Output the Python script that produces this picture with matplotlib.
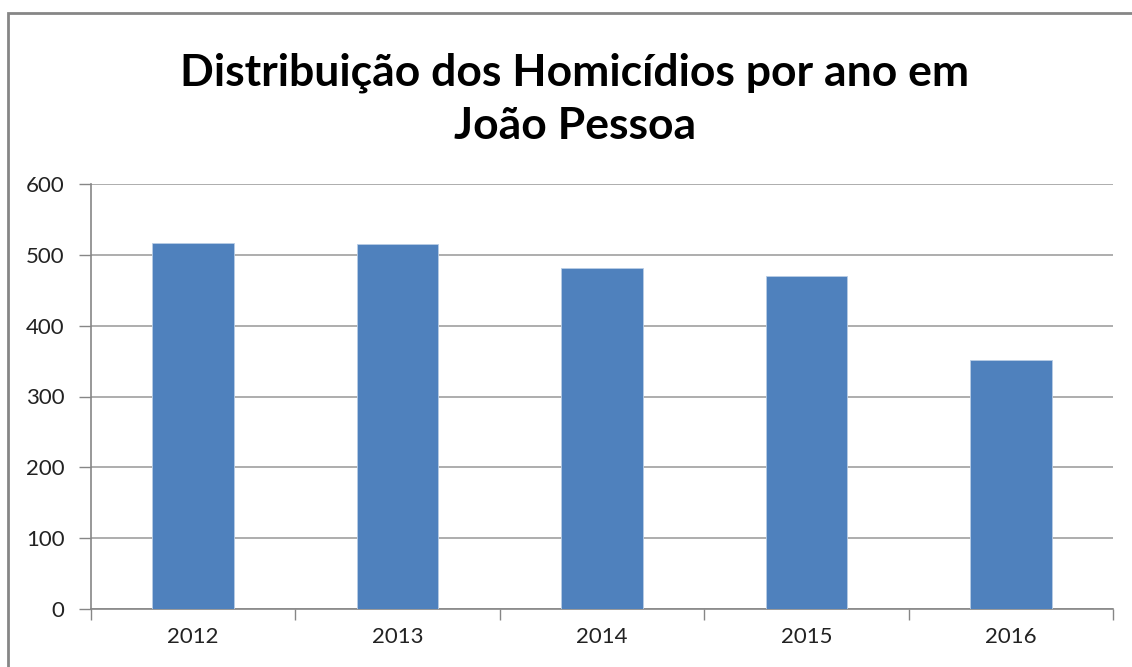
import matplotlib.pyplot as plt
import matplotlib.patches as mpatches
import numpy as np

anos = ['2012', '2013', '2014', '2015', '2016']
homicidios = [517, 516, 481, 470, 351]
y_ticks = [0, 100, 200, 300, 400, 500, 600]

W, H = 1132, 667
fig = plt.figure(figsize=(W / 100, H / 100), dpi=100)
fig.patch.set_facecolor('white')

# moldura cinza do grafico (cortada a direita e embaixo)
borda = mpatches.Rectangle((8 / W, -0.05), 1.2, 1 - 13 / H + 0.05,
                           transform=fig.transFigure, fill=False,
                           edgecolor='#868686', linewidth=2)
fig.patches.append(borda)

ax = fig.add_axes([91 / W, 1 - 609 / H, (1113 - 91) / W, (609 - 184) / H])

x = np.arange(len(anos))
ax.bar(x, homicidios, width=0.4, color='#4F81BD', edgecolor='#B9CDE5',
       linewidth=0.6, zorder=3)

ax.set_xlim(-0.5, len(anos) - 0.5)
ax.set_ylim(0, 600)
ax.set_yticks(y_ticks)
ax.set_yticklabels([str(v) for v in y_ticks], fontsize=16, color='#222222',
                   family='Lato')
ax.grid(axis='y', color='#A0A0A0', linewidth=1.2, zorder=0)

ax.set_xticks(x)
ax.set_xticklabels(anos, fontsize=16, color='#222222', family='Lato')
ax.set_xticks(np.arange(-0.5, len(anos)), minor=True)
ax.tick_params(axis='x', which='major', length=0, pad=13)
ax.tick_params(axis='x', which='minor', length=8, color='#868686', width=1)
ax.tick_params(axis='y', length=9, color='#868686', width=1, pad=10)

for s in ['top', 'right']:
    ax.spines[s].set_visible(False)
for s in ['left', 'bottom']:
    ax.spines[s].set_color('#868686')
    ax.spines[s].set_linewidth(1.2)

fig.text(575 / W, 1 - 99 / H,
         'Distribuição dos Homicídios por ano em\nJoão Pessoa',
         ha='center', va='center', fontsize=32, fontweight='bold',
         family='Lato', linespacing=1.38)

fig.savefig('out.png', dpi=100)
